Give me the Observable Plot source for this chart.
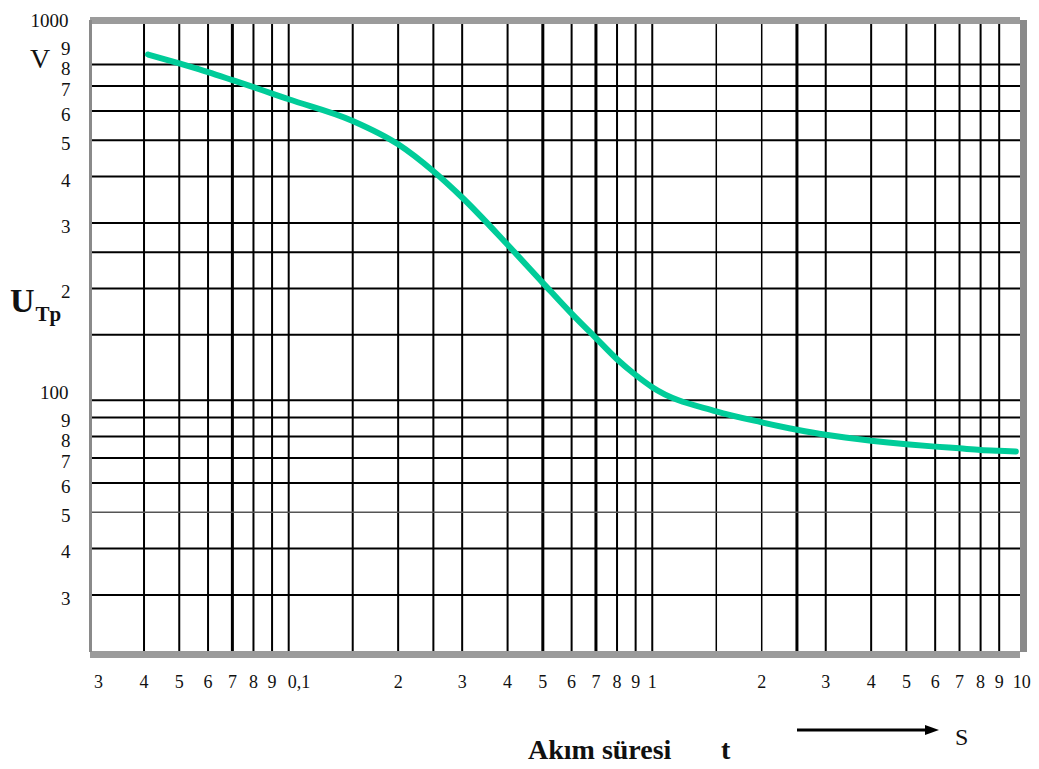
<!DOCTYPE html>
<html>
<head>
<meta charset="utf-8">
<script src="https://cdn.jsdelivr.net/npm/d3@7"></script>
<script src="https://cdn.jsdelivr.net/npm/@observablehq/plot@0.6"></script>
<style>
  body { margin: 0; background: #fff; font-family: "Liberation Serif", "Times New Roman", serif; }
  #wrap { position: relative; width: 1039px; height: 769px; overflow: hidden; }
  .lbl { position: absolute; color: #111; line-height: 1; white-space: nowrap; }
</style>
</head>
<body>
<div id="wrap"></div>
<script>
// ---- data ----
const xTicks = [0.03, 0.04, 0.05, 0.06, 0.07, 0.08, 0.09, 0.1, 0.2, 0.3, 0.4, 0.5, 0.6, 0.7, 0.8, 0.9, 1, 2, 3, 4, 5, 6, 7, 8, 9, 10];
const xTickLabels = ["3", "4", "5", "6", "7", "8", "9", "0,1", "2", "3", "4", "5", "6", "7", "8", "9", "1", "2", "3", "4", "5", "6", "7", "8", "9", "10"];
const xGrid = [0.04, 0.05, 0.06, 0.07, 0.08, 0.09, 0.1, 0.15, 0.2, 0.25, 0.3, 0.4, 0.5, 0.6, 0.7, 0.8, 0.9, 1, 1.5, 2, 2.5, 3, 4, 5, 6, 7, 8, 9];
const yTicks = [30, 40, 50, 60, 70, 80, 90, 100, 200, 300, 400, 500, 600, 700, 800, 900, 1000];
const yTickLabels = ["3", "4", "5", "6", "7", "8", "9", "100", "2", "3", "4", "5", "6", "7", "8", "9", "1000"];
const yGrid = [30, 40, 50, 60, 70, 80, 90, 100, 150, 200, 250, 300, 400, 500, 600, 700, 800];
const tValues = [0.041, 0.05, 0.06, 0.07, 0.08, 0.09, 0.1, 0.15, 0.2, 0.25, 0.3, 0.4, 0.5, 0.6, 0.7, 0.8, 0.9, 1, 1.5, 2, 2.5, 3, 4, 5, 6, 7, 8, 9, 10];
const uValues = [851, 805, 763, 726, 695, 668, 645, 564, 488, 413, 351, 262, 207, 171, 147, 129, 117, 108.5, 93.4, 87.3, 83.4, 80.8, 77.9, 76.2, 75.1, 74.3, 73.6, 73.2, 72.9];
const xDomain = [0.0285, 10.3];
const yDomain = [21, 1050];

// ---- derived tables ----
const curve = tValues.map((t, i) => ({t, u: uValues[i]}));
const xLabel = new Map(xTicks.map((v, i) => [v, xTickLabels[i]]));
const yLabel = new Map(yTicks.map((v, i) => [v, yTickLabels[i]]));
const heavyX = new Set([0.07, 0.5, 0.7, 2.5]);
const lightX = new Set([1.5, 2]);
const isDecade = d => yLabel.get(d).length > 1;
const isTenth = d => xLabel.get(d) === "0,1";
const isTen = d => xLabel.get(d) === "10";

const serif = '"Liberation Serif", "Times New Roman", serif';
const lab = {frameAnchor: "bottom", dy: 35, fontSize: 18, fill: "#111"};

const chart = Plot.plot({
  width: 1039,
  height: 705,
  marginLeft: 90,
  marginRight: 19,
  marginTop: 20,
  marginBottom: 53,
  style: {fontFamily: serif, fontSize: "18px", color: "#111", background: "#fff"},
  x: {type: "log", domain: xDomain, axis: null},
  y: {type: "log", domain: yDomain, axis: null},
  marks: [
    Plot.ruleX(xGrid, {stroke: "#000", strokeWidth: d => heavyX.has(d) ? 3 : lightX.has(d) ? 1.5 : 2}),
    Plot.ruleY(yGrid, {stroke: d => d === 50 ? "#555" : "#000", strokeWidth: d => d === 50 ? 1.5 : 2}),
    Plot.ruleY([yDomain[1]], {stroke: "#9b9b9b", strokeWidth: 7}),
    Plot.ruleY([yDomain[0]], {stroke: "#9b9b9b", strokeWidth: 7, dy: 2}),
    Plot.ruleX([xDomain[0]], {stroke: "#8a8a8a", strokeWidth: 3}),
    Plot.ruleX([xDomain[1]], {stroke: "#8a8a8a", strokeWidth: 7, dx: 3}),
    Plot.line(curve, {x: "t", y: "u", stroke: "#00cc99", strokeWidth: 6, curve: "monotone-x"}),
    // x tick labels
    Plot.text(xTicks.filter(d => !isTenth(d) && !isTen(d)), {x: d => d, text: d => xLabel.get(d), ...lab}),
    Plot.text(xTicks.filter(isTenth), {x: d => d, text: d => xLabel.get(d), textAnchor: "start", dx: -1, ...lab}),
    Plot.text(xTicks.filter(isTen), {x: d => d, text: d => xLabel.get(d), dx: 6, ...lab}),
    // y tick labels (digits sit just below their line, decade labels just above)
    Plot.text(yTicks.filter(d => !isDecade(d)), {y: d => d, text: d => yLabel.get(d), frameAnchor: "left", textAnchor: "end", dx: -20, dy: 4, fontSize: 19, fill: "#111"}),
    Plot.text(yTicks.filter(isDecade), {y: d => d, text: d => yLabel.get(d), frameAnchor: "left", textAnchor: "end", dx: -22, dy: -7, fontSize: 19, fill: "#111"})
  ]
});

const wrap = document.getElementById("wrap");
wrap.appendChild(chart);

function addLabel(html, style) {
  const d = document.createElement("div");
  d.className = "lbl";
  d.innerHTML = html;
  Object.assign(d.style, style);
  wrap.appendChild(d);
}
addLabel("V", {left: "30px", top: "45px", fontSize: "28px"});
addLabel('U<span style="font-size:21px;position:relative;top:9px;margin-left:1px">Tp</span>',
  {left: "10px", top: "284px", fontSize: "34px", fontWeight: "bold"});
addLabel("Akım süresi", {left: "528px", top: "736px", fontSize: "28px", fontWeight: "bold"});
addLabel("t", {left: "721px", top: "736px", fontSize: "28px", fontWeight: "bold"});
addLabel("S", {left: "955px", top: "725px", fontSize: "24px"});

// arrow pointing to the time unit
const ns = "http://www.w3.org/2000/svg";
const arr = document.createElementNS(ns, "svg");
arr.setAttribute("width", "160");
arr.setAttribute("height", "20");
Object.assign(arr.style, {position: "absolute", left: "795px", top: "720px"});
arr.innerHTML = '<line x1="2" y1="10" x2="132" y2="10" stroke="#000" stroke-width="3"/>' +
  '<path d="M130,5 L144,10 L130,15 Z" fill="#000"/>';
wrap.appendChild(arr);
</script>
</body>
</html>
